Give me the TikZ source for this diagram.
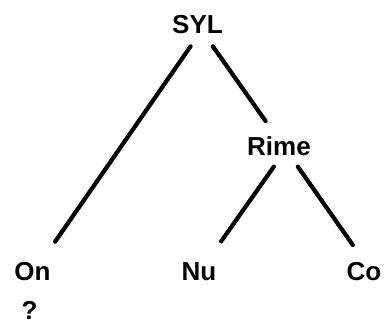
\documentclass[tikz,border=0pt]{standalone}
\usepackage{fontspec}
\setmainfont{Liberation Sans}
\begin{document}
\begin{tikzpicture}[x=1pt,y=-1pt,
  lbl/.style={font=\bfseries\fontsize{26}{28}\selectfont, inner sep=0pt, anchor=base},
  branch/.style={line width=4.2pt, line cap=round, shorten <=2pt, shorten >=2pt}]
  \useasboundingbox (0,0) rectangle (386,324);
  % constituent labels
  \node[lbl] (SYL)  at (197.5,34) {SYL};
  \node[lbl] (Rime) at (279,155) {Rime};
  \node[lbl] (On)   at (32.5,280) {On};
  \node[lbl] (Nu)   at (199,280) {Nu};
  \node[lbl] (Co)   at (364,280) {Co};
  \node[lbl] (Q)    at (29.5,319.5) {?};
  % branches
  \draw[branch] ([shift={(-5.8,10.7)}]SYL.base) -- ([shift={(21.5,-36.7)}]On.base);
  \draw[branch] ([shift={(14.2,10.7)}]SYL.base) -- ([shift={(-12.3,-32.3)}]Rime.base);
  \draw[branch] ([shift={(-4,10)}]Rime.base) -- ([shift={(21,-37)}]Nu.base);
  \draw[branch] ([shift={(17.7,10)}]Rime.base) -- ([shift={(-10,-33.3)}]Co.base);
\end{tikzpicture}
\end{document}
